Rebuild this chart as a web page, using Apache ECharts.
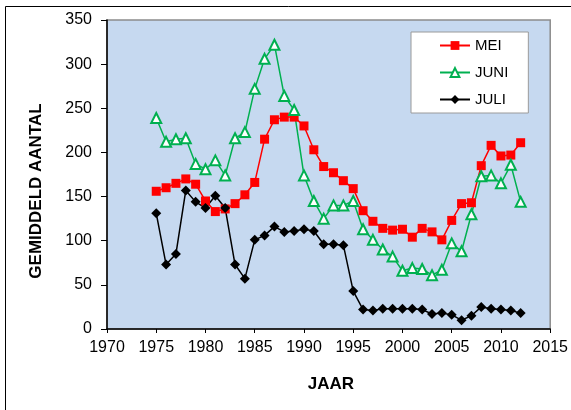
<!DOCTYPE html>
<html>
<head>
<meta charset="utf-8">
<script src="https://cdn.jsdelivr.net/npm/echarts@6/dist/echarts.min.js"></script>
<style>
html,body{margin:0;padding:0;background:#fff;}
#c{width:571px;height:410px;}
</style>
</head>
<body>
<div id="c"></div>
<script>
var years = [1975,1976,1977,1978,1979,1980,1981,1982,1983,1984,1985,1986,1987,1988,1989,1990,1991,1992,1993,1994,1995,1996,1997,1998,1999,2000,2001,2002,2003,2004,2005,2006,2007,2008,2009,2010,2011,2012];
var mei  = [156,160,165,170,164,145,133,136,142,152,166,215,237,240,240,230,203,184,177,168,159,134,122,114,112,113,104,114,110,101,123,142,143,185,208,196,197,211];
var juni = [239,212,215,216,187,181,191,174,216,223,272,306,322,264,248,174,145,125,140,140,145,113,101,90,82,66,69,68,61,67,97,88,130,173,174,165,186,144];
var juli = [131,73,85,157,144,137,151,137,73,57,101,106,116,110,111,113,111,96,96,95,43,22,21,23,23,23,23,22,17,18,16,10,15,25,23,22,21,18];
var xTicks = [1970,2015,5];
var yTicks = [0,350,50];

function pairs(vals){ return years.map(function(y,i){ return [y, vals[i]]; }); }

var font = 'Liberation Sans, Arial, sans-serif';
var chart = echarts.init(document.getElementById('c'), null, {renderer:'canvas'});
chart.setOption({
  animation:false,
  backgroundColor:'#ffffff',
  textStyle:{fontFamily:font},
  graphic:[
    {type:'rect', shape:{x:5.5,y:6.5,width:700,height:600}, style:{fill:'none', stroke:'#000', lineWidth:1}, z:-1},
    {type:'text', x:36, y:191, rotation:Math.PI/2, style:{text:'GEMIDDELD AANTAL', font:'bold 17px '+font, fill:'#000', textAlign:'center', textVerticalAlign:'middle'}},
    {type:'text', x:331, y:384, style:{text:'JAAR', font:'bold 17px '+font, fill:'#000', textAlign:'center', textVerticalAlign:'middle'}}
  ],
  grid:{left:107, top:20, right:19, bottom:81, show:true, backgroundColor:'#C6D9F0', borderColor:'#8c8c8c', borderWidth:1.5},
  legend:{
    orient:'vertical', left:411, top:32, width:120, height:77,
    backgroundColor:'#fff', borderColor:'#9a9a9a', borderWidth:1,
    padding:[6,20,6,28], itemGap:12, itemWidth:30, itemHeight:11,
    textStyle:{fontSize:15, color:'#000', fontFamily:font},
    data:['MEI','JUNI','JULI']
  },
  xAxis:{
    type:'value', min:xTicks[0], max:xTicks[1], interval:xTicks[2],
    axisLine:{show:true, lineStyle:{color:'#000', width:1.5}},
    axisTick:{show:true, length:4, lineStyle:{color:'#000'}},
    axisLabel:{fontSize:16, color:'#000', margin:11, fontFamily:font, formatter:function(v){return String(v);}},
    splitLine:{show:false}
  },
  yAxis:{
    type:'value', min:yTicks[0], max:yTicks[1], interval:yTicks[2],
    axisLine:{show:true, lineStyle:{color:'#000', width:1.5}},
    axisTick:{show:true, length:6, lineStyle:{color:'#000'}},
    axisLabel:{fontSize:16, color:'#000', margin:15, fontFamily:font},
    splitLine:{show:false}
  },
  series:[
    {name:'MEI', type:'line', data:pairs(mei), symbol:'rect', symbolSize:9, showAllSymbol:true,
     lineStyle:{color:'#FF0000', width:1.5}, itemStyle:{color:'#FF0000'}},
    {name:'JUNI', type:'line', data:pairs(juni), symbol:'triangle', symbolSize:10, showAllSymbol:true,
     lineStyle:{color:'#00B050', width:1.5}, itemStyle:{color:'#ffffff', borderColor:'#00B050', borderWidth:2}},
    {name:'JULI', type:'line', data:pairs(juli), symbol:'diamond', symbolSize:10, showAllSymbol:true,
     lineStyle:{color:'#000000', width:1.5}, itemStyle:{color:'#000000'}}
  ]
});
</script>
</body>
</html>
